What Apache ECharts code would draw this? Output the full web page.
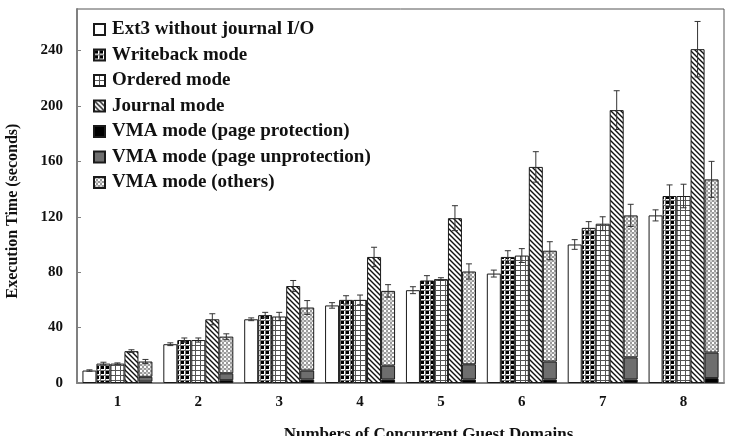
<!DOCTYPE html>
<html>
<head>
<meta charset="utf-8">
<script src="https://cdn.jsdelivr.net/npm/echarts@6/dist/echarts.min.js"></script>
<style>
  html, body { margin: 0; padding: 0; background: #fff; }
  #chart { width: 731px; height: 436px; }
</style>
</head>
<body>
<div id="chart"></div>
<script>
// groups on the x axis
const domains = ['1', '2', '3', '4', '5', '6', '7', '8'];

// bar heights (seconds)
const ext3 = [9, 28, 46, 56, 67, 79, 100, 121];
const writeback = [14, 31, 49, 60, 74, 91, 112, 135];
const ordered = [14, 31, 48, 60, 75, 92, 115, 135];
const journal = [23, 46, 70, 91, 119, 156, 197, 241];
const vmaProt = [1, 2, 2.5, 2.5, 2.5, 2.5, 2.5, 3.5];
const vmaUnprot = [3.5, 5, 6.5, 10, 11, 13, 16, 18.5];
const vmaOthers = [11, 26.5, 45.5, 54, 67, 80, 102.5, 125];

// error bar half lengths
const errExt3 = [0.5, 1, 1, 2, 2.5, 2.5, 3.5, 4];
const errWriteback = [1, 1.5, 2, 3, 3.5, 4.5, 4.5, 8];
const errOrdered = [0.5, 1.5, 3, 3.5, 1, 5, 5, 8.5];
const errJournal = [1, 4, 4, 7, 9, 11, 14, 20];
const errVma = [1.5, 2, 5, 4.5, 5.5, 6.5, 8, 13];

const yTicks = [0, 40, 80, 120, 160, 200, 240];

const BAR_W = 14;

// small tiles used as hatch fills
function tile(size, draw) {
  const c = document.createElement('canvas');
  c.width = size;
  c.height = size;
  const ctx = c.getContext('2d');
  ctx.fillStyle = '#fff';
  ctx.fillRect(0, 0, size, size);
  draw(ctx, size);
  return { image: c, repeat: 'repeat' };
}

const fillWriteback = tile(5, (ctx) => {
  ctx.fillStyle = '#777';
  ctx.fillRect(0, 0, 5, 1);
  ctx.fillRect(0, 0, 1, 5);
  ctx.fillStyle = '#000';
  ctx.fillRect(1, 1, 3, 3);
});

const fillOrdered = tile(5, (ctx) => {
  ctx.fillStyle = '#555';
  ctx.fillRect(0, 0, 5, 1);
  ctx.fillRect(0, 0, 1, 5);
});

const fillJournal = tile(5, (ctx, s) => {
  ctx.strokeStyle = '#111';
  ctx.lineWidth = 1.4;
  ctx.beginPath();
  ctx.moveTo(-1, -1); ctx.lineTo(s + 1, s + 1);
  ctx.moveTo(-1, s - 1); ctx.lineTo(1, s + 1);
  ctx.moveTo(s - 1, -1); ctx.lineTo(s + 1, 1);
  ctx.stroke();
});

const fillOthers = tile(4, (ctx) => {
  ctx.fillStyle = '#9a9a9a';
  ctx.fillRect(0, 0, 2, 2);
  ctx.fillRect(2, 2, 2, 2);
  ctx.fillStyle = '#d0d0d0';
  ctx.fillRect(2, 0, 2, 2);
});

const serif = 'Liberation Serif';

function barSeries(name, data, color, stack) {
  const s = {
    name: name,
    type: 'bar',
    data: data,
    barWidth: BAR_W,
    barGap: '0%',
    itemStyle: { color: color, borderColor: '#1a1a1a', borderWidth: 1 },
    emphasis: { disabled: true },
  };
  if (stack) s.stack = stack;
  return s;
}

// error bars: [group, value, err, column]
const errData = [];
[[ext3, errExt3], [writeback, errWriteback], [ordered, errOrdered], [journal, errJournal]].forEach((pair, k) => {
  pair[0].forEach((v, i) => errData.push([i, v, pair[1][i], k]));
});
vmaOthers.forEach((v, i) => {
  errData.push([i, vmaProt[i] + vmaUnprot[i] + v, errVma[i], 4]);
});

const chart = echarts.init(document.getElementById('chart'));

const option = {
  animation: false,
  backgroundColor: '#fff',
  grid: {
    left: 77,
    right: 7,
    top: 9,
    bottom: 53,
    outerBoundsMode: 'none',
    containLabel: false,
    show: true,
    borderColor: '#555',
    borderWidth: 1,
  },
  legend: {
    orient: 'vertical',
    left: 88,
    top: 15,
    itemWidth: 11,
    itemHeight: 11,
    itemGap: 6.5,
    icon: 'rect',
    data: [
      'Ext3 without journal I/O',
      'Writeback mode',
      'Ordered mode',
      'Journal mode',
      'VMA mode (page protection)',
      'VMA mode (page unprotection)',
      'VMA mode (others)',
    ],
    textStyle: {
      fontFamily: serif,
      fontWeight: 'bold',
      fontSize: 19,
      color: '#111',
      padding: [0, 0, 0, 2],
    },
  },
  xAxis: {
    type: 'category',
    data: domains,
    name: 'Numbers of Concurrent Guest Domains',
    nameLocation: 'middle',
    nameGap: 43,
    nameTextStyle: {
      fontFamily: serif,
      fontWeight: 'bold',
      fontSize: 17,
      color: '#111',
      padding: [0, 0, 0, 56],
    },
    axisLine: { lineStyle: { color: '#808080', width: 2 } },
    axisTick: { show: false },
    axisLabel: {
      margin: 12,
      fontFamily: serif,
      fontWeight: 'bold',
      fontSize: 15,
      color: '#111',
    },
  },
  yAxis: {
    type: 'value',
    min: 0,
    max: 270,
    interval: 40,
    name: 'Execution Time (seconds)',
    nameLocation: 'middle',
    nameGap: 56,
    nameTextStyle: {
      fontFamily: serif,
      fontWeight: 'bold',
      fontSize: 16,
      color: '#111',
      padding: [0, 30, 0, 0],
    },
    axisLine: { show: true, lineStyle: { color: '#808080', width: 2 } },
    axisTick: { show: true, inside: true, length: 4, lineStyle: { color: '#808080' } },
    splitLine: { show: false },
    axisLabel: {
      showMaxLabel: false,
      margin: 14,
      fontFamily: serif,
      fontWeight: 'bold',
      fontSize: 15,
      color: '#111',
      formatter: (v) => (yTicks.indexOf(v) >= 0 ? String(v) : ''),
    },
  },
  series: [
    barSeries('Ext3 without journal I/O', ext3, '#fff'),
    barSeries('Writeback mode', writeback, fillWriteback),
    barSeries('Ordered mode', ordered, fillOrdered),
    barSeries('Journal mode', journal, fillJournal),
    barSeries('VMA mode (page protection)', vmaProt, '#000', 'vma'),
    barSeries('VMA mode (page unprotection)', vmaUnprot, '#6e6e6e', 'vma'),
    barSeries('VMA mode (others)', vmaOthers, fillOthers, 'vma'),
    {
      type: 'custom',
      name: 'error',
      data: errData,
      z: 5,
      silent: true,
      renderItem: (params, api) => {
        const i = api.value(0);
        const v = api.value(1);
        const e = api.value(2);
        const k = api.value(3);
        const top = api.coord([i, v + e]);
        const bot = api.coord([i, Math.max(0, v - e)]);
        const x = top[0] + (k - 2) * BAR_W;
        const style = { stroke: '#333', lineWidth: 1 };
        return {
          type: 'group',
          children: [
            { type: 'line', shape: { x1: x, y1: top[1], x2: x, y2: bot[1] }, style: style },
            { type: 'line', shape: { x1: x - 3, y1: top[1], x2: x + 3, y2: top[1] }, style: style },
            { type: 'line', shape: { x1: x - 3, y1: bot[1], x2: x + 3, y2: bot[1] }, style: style },
          ],
        };
      },
    },
  ],
};

chart.setOption(option);
</script>
</body>
</html>
